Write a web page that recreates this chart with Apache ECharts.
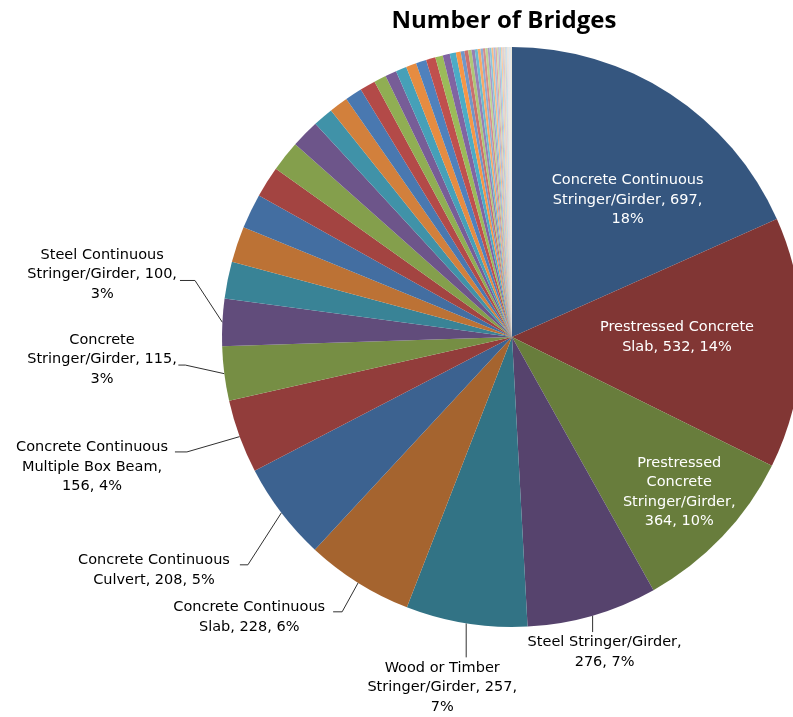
<!DOCTYPE html>
<html>
<head>
<meta charset="utf-8">
<script src="https://cdn.jsdelivr.net/npm/echarts@6/dist/echarts.min.js"></script>
<style>
html,body{margin:0;padding:0;background:#ffffff;}
#chart{width:793px;height:717px;}
</style>
</head>
<body>
<div id="chart"></div>
<script>
// ---------------- data ----------------
const chartTitle = 'Number of Bridges';

const labeledNames = [
  'Concrete Continuous Stringer/Girder',
  'Prestressed Concrete Slab',
  'Prestressed Concrete Stringer/Girder',
  'Steel Stringer/Girder',
  'Wood or Timber Stringer/Girder',
  'Concrete Continuous Slab',
  'Concrete Continuous Culvert',
  'Concrete Continuous Multiple Box Beam',
  'Concrete Stringer/Girder',
  'Steel Continuous Stringer/Girder'
];
const labeledValues = [697, 532, 364, 276, 257, 228, 208, 156, 115, 100];

// unlabeled remaining bridge types
const otherValues = [
  78, 76, 74, 66, 65, 60, 43, 40, 36, 33,
  26, 24, 23, 22, 22, 20, 16, 15, 13, 10,
  8, 8, 7, 7, 6, 6, 5, 5, 5, 4, 4, 4, 4, 3, 3, 3, 3, 3,
  2, 2, 2, 2, 2, 1, 1, 1, 1, 1, 1, 1, 1, 1, 1
];

// label text line layout ({v} = value, {p} = percent)
const labelTemplates = [
  'Concrete Continuous\nStringer/Girder, {v},\n{p}',
  'Prestressed Concrete\nSlab, {v}, {p}',
  'Prestressed\nConcrete\nStringer/Girder,\n{v}, {p}',
  'Steel Stringer/Girder,\n{v}, {p}',
  'Wood or Timber\nStringer/Girder, {v},\n{p}',
  'Concrete Continuous\nSlab, {v}, {p}',
  'Concrete Continuous\nCulvert, {v}, {p}',
  'Concrete Continuous\nMultiple Box Beam,\n{v}, {p}',
  'Concrete\nStringer/Girder, {v},\n{p}',
  'Steel Continuous\nStringer/Girder, {v},\n{p}'
];

// ---------------- styles ----------------
const accents = ['#4F81BD', '#C0504D', '#9BBB59', '#8064A2', '#4BACC6', '#F79646'];
const groupTone = [-0.33, -0.24, -0.15, -0.07, 0, 0.18, 0.35, 0.5, 0.62, 0.72];

function tone(hex, t) {
  const n = parseInt(hex.slice(1), 16);
  let c = [(n >> 16) & 255, (n >> 8) & 255, n & 255];
  c = c.map(v => t < 0 ? Math.round(v * (1 + t)) : Math.round(v + (255 - v) * t));
  return 'rgb(' + c.join(',') + ')';
}

// label placement tweaks (inside: shift; outside: leader line elbow / label offsets)
const labelPlace = {
  0: { type: 'inside', dx: 35, dy: -13 },
  1: { type: 'inside', dx: 17, dy: -3 },
  2: { type: 'inside', dx: 60, dy: 53 },
  3: { type: 'down', ey: 16.5, lx: 12, ly: 20 },
  4: { type: 'down', ey: 34, lx: -24, ly: 30 },
  5: { type: 'left', ex: -16, ey: 29, h: -9, gap: 8, ly: 5.5 },
  6: { type: 'left', ex: -33.5, ey: 52, h: -8, gap: 10, ly: 5.5 },
  7: { type: 'left', ex: -52.7, ey: 15.3, h: -12, gap: 7, ly: 15 },
  8: { type: 'left', ex: -39, ey: -8.6, h: -7, gap: 1.5, ly: -5.5 },
  9: { type: 'left', ex: -27.4, ey: -41.8, h: -15, gap: 3, ly: -6 }
};

// ---------------- build ----------------
const allValues = labeledValues.concat(otherValues);
const total = allValues.reduce((a, b) => a + b, 0);

const data = allValues.map((v, i) => {
  const item = {
    value: v,
    name: i < labeledNames.length ? labeledNames[i] : 'Other type ' + (i - labeledNames.length + 1),
    itemStyle: { color: tone(accents[i % 6], groupTone[Math.min(Math.floor(i / 6), groupTone.length - 1)]) }
  };
  if (i < labeledNames.length) {
    const inside = labelPlace[i].type === 'inside';
    item.label = {
      show: true,
      position: inside ? 'inside' : 'outside',
      color: inside ? '#ffffff' : '#000000',
      formatter: labelTemplates[i].replace('{v}', v).replace('{p}', Math.round(v / total * 100) + '%')
    };
    item.labelLine = { show: !inside };
  } else {
    item.label = { show: false };
    item.labelLine = { show: false };
  }
  return item;
});

const chart = echarts.init(document.getElementById('chart'), null, { renderer: 'canvas' });
chart.setOption({
  backgroundColor: '#ffffff',
  animation: false,
  title: {
    text: chartTitle,
    left: 499,
    top: 4,
    textAlign: 'center',
    textStyle: { fontFamily: 'Open Sans', fontWeight: 'bold', fontSize: 24, color: '#000000' }
  },
  series: [{
    type: 'pie',
    center: [512, 337],
    radius: [0, 290],
    startAngle: 90,
    clockwise: true,
    avoidLabelOverlap: false,
    data: data,
    itemStyle: { borderWidth: 0 },
    label: {
      fontFamily: 'DejaVu Sans',
      fontSize: 14.5,
      lineHeight: 19.5,
      align: 'center'
    },
    labelLine: {
      length: 20,
      length2: 10,
      lineStyle: { color: '#303030', width: 1 }
    },
    labelLayout: function (p) {
      const cfg = labelPlace[p.dataIndex];
      if (!cfg) return {};
      if (cfg.type === 'inside') return { dx: cfg.dx, dy: cfg.dy };
      if (!p.labelLinePoints) return {};
      const e = p.labelLinePoints[0];
      const w = p.labelRect.width;
      if (cfg.type === 'down') {
        const end = [e[0], e[1] + cfg.ey];
        return {
          x: e[0] + cfg.lx, y: end[1] + cfg.ly,
          align: 'center', verticalAlign: 'middle',
          labelLinePoints: [e, end, end]
        };
      }
      const elbow = [e[0] + cfg.ex, e[1] + cfg.ey];
      const end = [elbow[0] + cfg.h, elbow[1]];
      return {
        x: end[0] - cfg.gap - w / 2, y: end[1] + cfg.ly,
        align: 'center', verticalAlign: 'middle',
        labelLinePoints: [e, elbow, end]
      };
    }
  }]
});
</script>
</body>
</html>
